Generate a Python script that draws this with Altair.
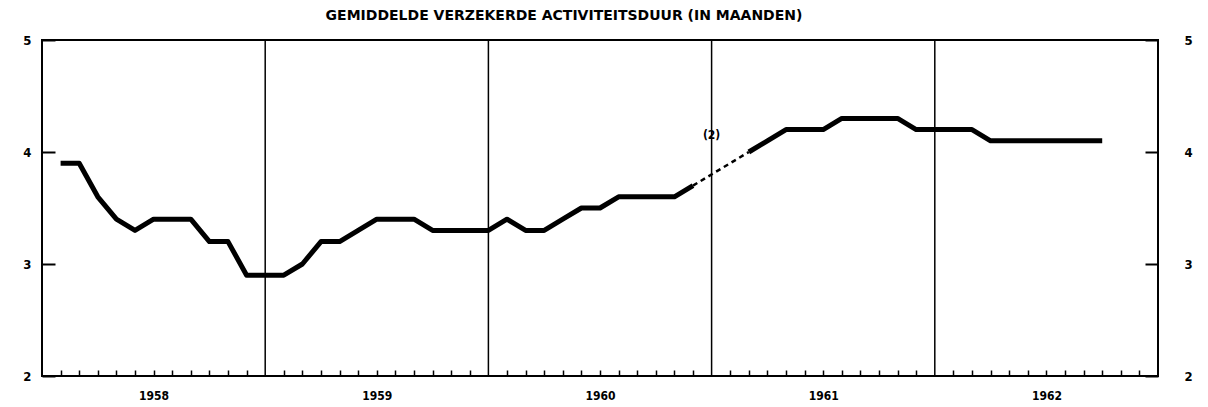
import altair as alt
import pandas as pd

# month index: 0 = start of Jan 1958, 12 = start of 1959, ...
months_a = list(range(1, 36))
values_a = [3.9, 3.9, 3.6, 3.4, 3.3, 3.4, 3.4, 3.4, 3.2, 3.2, 2.9, 2.9,
            2.9, 3.0, 3.2, 3.2, 3.3, 3.4, 3.4, 3.4, 3.3, 3.3, 3.3, 3.3,
            3.4, 3.3, 3.3, 3.4, 3.5, 3.5, 3.6, 3.6, 3.6, 3.6, 3.7]
months_b = list(range(38, 58))
values_b = [4.0, 4.1, 4.2, 4.2, 4.2, 4.3, 4.3, 4.3, 4.3, 4.2, 4.2, 4.2,
            4.2, 4.1, 4.1, 4.1, 4.1, 4.1, 4.1, 4.1]
dash_months = [35, 38]
dash_values = [3.7, 4.0]
year_bounds = [12, 24, 36, 48]
note_month = [36]
note_value = [4.15]
note_text = ["(2)"]
y_ticks = [2, 3, 4, 5]
month_ticks = [m for m in range(1, 60) if m % 12 != 0]

title = "GEMIDDELDE VERZEKERDE ACTIVITEITSDUUR (IN MAANDEN)"
FONT = "DejaVu Sans Condensed"

df = pd.DataFrame({
    "m": months_a + months_b,
    "v": values_a + values_b,
    "seg": ["a"] * len(months_a) + ["b"] * len(months_b),
})
df_dash = pd.DataFrame({"m": dash_months, "v": dash_values})
df_rules = pd.DataFrame({"m": year_bounds})
df_note = pd.DataFrame({"m": note_month, "v": note_value, "t": note_text})

xs = alt.Scale(domain=[0, 60], nice=False, zero=False)
ys = alt.Scale(domain=[2, 5], nice=False, zero=False)

x_axis = alt.Axis(values=month_ticks, offset=-6, tickSize=6, tickWidth=1.5,
                  tickColor="black", domain=False, grid=False, title=None,
                  labelExpr="datum.value % 12 == 6 ? toString(1958 + floor(datum.value / 12)) : ''",
                  labelOverlap=False, labelBound=False, labelFlush=False,
                  labelPadding=14, labelFont=FONT, labelFontWeight="bold",
                  labelFontSize=12, labelColor="black")

left_axis = alt.Axis(values=y_ticks, offset=-13, tickSize=13, tickWidth=2,
                     tickColor="black", domain=False, grid=False, title=None,
                     labelPadding=11, labelFont=FONT, labelFontWeight="bold",
                     labelFontSize=13, labelColor="black")
right_axis = alt.Axis(values=y_ticks, orient="right", offset=-13, tickSize=13,
                      tickWidth=2, tickColor="black", domain=False, grid=False,
                      title=None, labelPadding=26, labelFont=FONT,
                      labelFontWeight="bold", labelFontSize=13, labelColor="black")

rules = alt.Chart(df_rules).mark_rule(color="black", strokeWidth=1.5).encode(
    x=alt.X("m:Q", scale=xs, axis=x_axis)
)

line = alt.Chart(df).mark_line(color="black", strokeWidth=5,
                               strokeJoin="round", strokeCap="butt").encode(
    x=alt.X("m:Q", scale=xs, axis=x_axis),
    y=alt.Y("v:Q", scale=ys, axis=left_axis),
    detail="seg:N",
)

dash = alt.Chart(df_dash).mark_line(color="black", strokeWidth=2.5,
                                    strokeDash=[5, 4]).encode(
    x=alt.X("m:Q", scale=xs, axis=x_axis),
    y=alt.Y("v:Q", scale=ys, axis=None),
)

note = alt.Chart(df_note).mark_text(font=FONT, fontWeight="bold", fontSize=12,
                                    color="black").encode(
    x=alt.X("m:Q", scale=xs, axis=x_axis),
    y=alt.Y("v:Q", scale=ys, axis=None),
    text="t:N",
)

right = alt.Chart(df_dash).mark_point(opacity=0).encode(
    x=alt.X("m:Q", scale=xs, axis=x_axis),
    y=alt.Y("v:Q", scale=ys, axis=right_axis),
)

chart = alt.layer(rules, line, dash, note, right).resolve_scale(
    y="independent"
).properties(
    width=1116,
    height=336,
    title=alt.TitleParams(text=title, anchor="middle", dx=-36, offset=11,
                          font="DejaVu Sans", fontWeight="bold", fontSize=14,
                          color="black"),
    autosize=alt.AutoSizeParams(type="none"),
    padding={"left": 34, "top": 32, "right": 40, "bottom": 28},
    background="white",
).configure_view(stroke="black", strokeWidth=2).configure_axis(labelOverlap=False)

chart.save("out.html", embed_options={"renderer": "svg", "actions": False})
